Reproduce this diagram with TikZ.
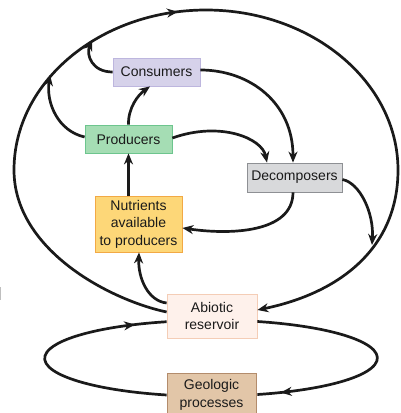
\documentclass[tikz,border=0pt]{standalone}
\usepackage{fontspec}
\setmainfont{Liberation Sans}
\usetikzlibrary{arrows.meta,decorations.markings}
\definecolor{consfill}{HTML}{D6D2EA}\definecolor{consdraw}{HTML}{BDB6DE}
\definecolor{prodfill}{HTML}{A5DDB4}\definecolor{proddraw}{HTML}{6DC58E}
\definecolor{decfill}{HTML}{D8D9DB}\definecolor{decdraw}{HTML}{8E9094}
\definecolor{nutfill}{HTML}{FDD778}\definecolor{nutdraw}{HTML}{F2A945}
\definecolor{abiofill}{HTML}{FEF1EB}\definecolor{abiodraw}{HTML}{F4CDB6}
\definecolor{geofill}{HTML}{E2C6A8}\definecolor{geodraw}{HTML}{B38C6C}
\definecolor{ink}{HTML}{1A1A1A}
\begin{document}
\begin{tikzpicture}[x=1pt,y=1pt,
  box/.style={draw, line width=0.8pt, inner sep=0pt, align=center, text=ink,
    font=\fontsize{14}{17.5}\selectfont},
  flow/.style={line width=2.7pt, ink, -{Stealth[length=11pt,width=9pt,inset=3.5pt]}},
  loop/.style={line width=2.7pt, ink},
  midarrow/.style={postaction={decorate}, decoration={markings,
    mark=at position #1 with {\arrow{Stealth[length=11pt,width=9pt,inset=3.5pt]}}}}
]
\useasboundingbox (0,0) rectangle (400,413);
% boxes
\node[box, fill=consfill, draw=consdraw, minimum width=87pt, minimum height=28pt] (cons) at (156.5,341) {Consumers};
\node[box, fill=prodfill, draw=proddraw, minimum width=87pt, minimum height=28pt] (prod) at (128.5,274) {Producers};
\node[box, fill=decfill, draw=decdraw, minimum width=95pt, minimum height=29pt] (dec) at (294.5,235.5) {Decomposers};
\node[box, fill=nutfill, draw=nutdraw, minimum width=87pt, minimum height=56pt] (nut) at (138.5,189) {Nutrients\\available\\to producers};
\node[box, fill=abiofill, draw=abiodraw, minimum width=90pt, minimum height=44pt] (abio) at (212,97) {Abiotic\\reservoir};
\node[box, fill=geofill, draw=geodraw, minimum width=89pt, minimum height=44pt] (geo) at (211.5,18) {Geologic\\processes};
% points on the outer loop
\coordinate (oc) at (92,373);
\coordinate (op) at (50,338);
\coordinate (od) at (372,168);
% outer loop
\draw[flow, midarrow=0.475] ([yshift=4pt]abio.west)
  .. controls (110,113) and (14,163) .. (14,243)
  .. controls (14,331) and (100,403) .. (206,403)
  .. controls (312,403) and (398,331) .. (398,243)
  .. controls (398,165) and (340,120) .. ([yshift=6pt]abio.east);
% bottom loop
\draw[loop, midarrow=0.88] (geo.west) arc[start angle=254.6, end angle=105.4, x radius=166, y radius=38];
\draw[loop, midarrow=0.91] ([yshift=-5.5pt]abio.east) arc[start angle=73.9, end angle=-73.9, x radius=166, y radius=38];
% connectors
\draw[flow] (prod.north) .. controls (128,305) and (138,318) .. ([xshift=-6.5pt]cons.south);
\draw[flow] (cons.west) .. controls (92,341) and (86,358) .. (oc);
\draw[flow] ([yshift=2pt]prod.west) .. controls (58,282) and (46,310) .. (op);
\draw[flow] ([yshift=1pt]prod.east) .. controls (220,292) and (262,275) .. ([xshift=-27.5pt]dec.north);
\draw[flow] ([yshift=2pt]cons.east) .. controls (250,343) and (293,310) .. ([xshift=-1.5pt]dec.north);
\draw[flow] ([xshift=-1.5pt]dec.south) .. controls (293,180) and (230,178) .. ([yshift=-4pt]nut.east);
\draw[flow] ([yshift=-2pt]dec.east) .. controls (360,230) and (374,200) .. (od);
\draw[flow] (nut.north -| prod.south) -- (prod.south);
\draw[flow] ([yshift=13pt]abio.west) .. controls (148,112) and (138,135) .. ([xshift=0.5pt]nut.south);
% faint mark at the left edge
\draw[black!25, line width=0.8pt] (0.5,113) -- (0.5,126);
\end{tikzpicture}
\end{document}
